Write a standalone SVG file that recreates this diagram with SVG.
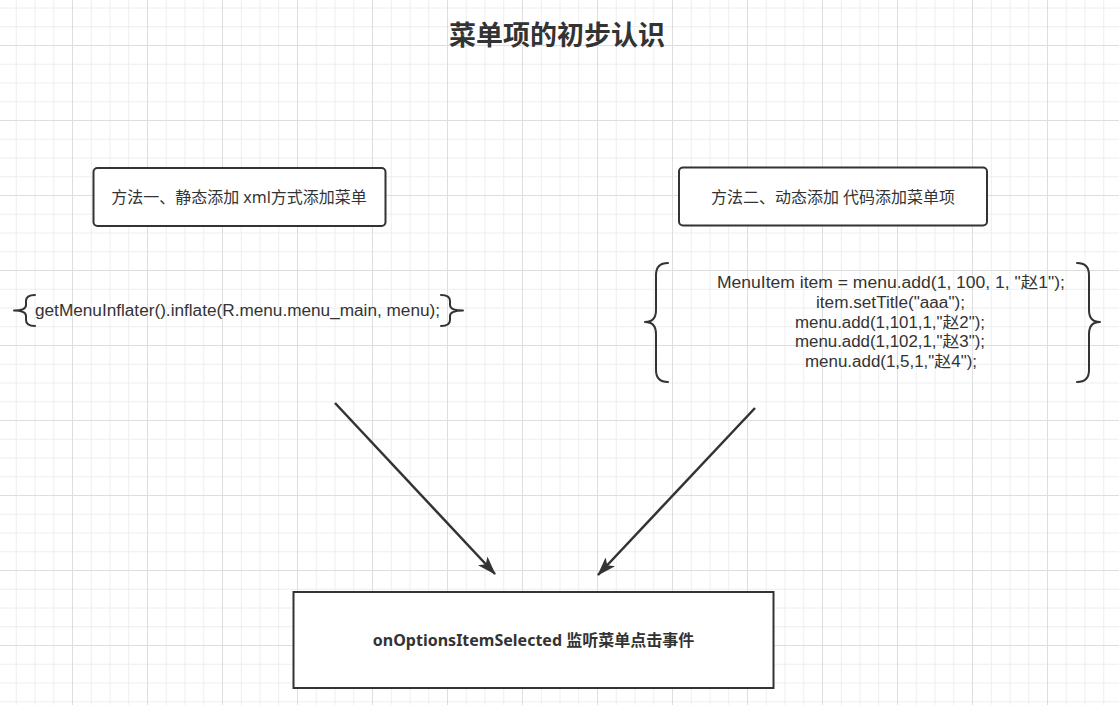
<svg xmlns="http://www.w3.org/2000/svg" width="1119" height="705" viewBox="0 0 1119 705">
  <style>
    .box { fill: #ffffff; stroke: #333333; stroke-width: 2; }
    .brace { fill: none; stroke: #333333; stroke-width: 2; stroke-linecap: round; stroke-linejoin: round; }
    .txt { font-family: "Noto Sans", "Noto Sans CJK SC", sans-serif; font-size: 16px; fill: #333333; text-anchor: middle; }
    .code { font-family: "Liberation Sans", "Noto Sans CJK SC", sans-serif; font-size: 16px; fill: #333333; text-anchor: middle; }
    .title { font-family: "Noto Sans", "Noto Sans CJK SC", sans-serif; font-size: 27px; font-weight: bold; fill: #333333; text-anchor: middle; }
    .bold { font-weight: bold; }
    .edge { fill: none; stroke: #333333; stroke-width: 2.5; }
  </style>
  <defs>
    <pattern id="grid" x="72" y="45" width="75" height="75" patternUnits="userSpaceOnUse">
      <g stroke="#eeeeee" stroke-width="1">
        <line x1="19.25" y1="0" x2="19.25" y2="75"/>
        <line x1="38" y1="0" x2="38" y2="75"/>
        <line x1="56.75" y1="0" x2="56.75" y2="75"/>
        <line x1="0" y1="19.25" x2="75" y2="19.25"/>
        <line x1="0" y1="38" x2="75" y2="38"/>
        <line x1="0" y1="56.75" x2="75" y2="56.75"/>
      </g>
      <g stroke="#dedede" stroke-width="1">
        <line x1="0.5" y1="0" x2="0.5" y2="75"/>
        <line x1="0" y1="0.5" x2="75" y2="0.5"/>
      </g>
    </pattern>
    <marker id="arrow" viewBox="0 0 19 13" refX="18" refY="6.5" markerWidth="19" markerHeight="13" markerUnits="userSpaceOnUse" orient="auto">
      <path d="M0,0 L19,6.5 L0,13 L4.5,6.5 Z" fill="#333333"/>
    </marker>
  </defs>
  <rect x="0" y="0" width="1119" height="705" fill="#ffffff"/>
  <rect x="0" y="0" width="1119" height="705" fill="url(#grid)"/>

  <g id="title">
    <text class="title" x="557" y="45">菜单项的初步认识</text>
  </g>

  <g id="connectors">
    <line class="edge" x1="335" y1="403" x2="495" y2="574" marker-end="url(#arrow)"/>
    <line class="edge" x1="755" y1="408" x2="598" y2="575" marker-end="url(#arrow)"/>
  </g>

  <g id="node-static">
    <rect class="box" x="93.5" y="168" width="292" height="58" rx="4" ry="4"/>
    <text class="txt" x="239" y="203">方法一、静态添加 xml方式添加菜单</text>
  </g>

  <g id="node-dynamic">
    <rect class="box" x="679" y="167.5" width="308" height="58" rx="4" ry="4"/>
    <text class="txt" x="833" y="203">方法二、动态添加 代码添加菜单项</text>
  </g>

  <g id="node-inflate">
    <path class="brace" d="M35,295 Q26,295 26,301 L26,305 Q26,310.5 14,310.5 Q26,310.5 26,316 L26,320 Q26,326 35,326"/>
    <path class="brace" d="M441,295 Q450,295 450,301 L450,305 Q450,310.5 463,310.5 Q450,310.5 450,316 L450,320 Q450,326 441,326"/>
    <text class="code" x="237.5" y="316" textLength="405" lengthAdjust="spacingAndGlyphs">getMenuInflater().inflate(R.menu.menu_main, menu);</text>
  </g>

  <g id="node-code">
    <path class="brace" d="M668,263 Q656,263 656,275 L656,310 Q656,322 645,322 Q656,322 656,334 L656,370 Q656,382 668,382"/>
    <path class="brace" d="M1077,263 Q1089,263 1089,275 L1089,310 Q1089,322 1100,322 Q1089,322 1089,334 L1089,370 Q1089,382 1077,382"/>
    <text class="code" x="891" y="288" textLength="348" lengthAdjust="spacingAndGlyphs">MenuItem item = menu.add(1, 100, 1, "赵1");</text>
    <text class="code" x="890.5" y="308" textLength="149" lengthAdjust="spacingAndGlyphs">item.setTitle("aaa");</text>
    <text class="code" x="890" y="327.5" textLength="190" lengthAdjust="spacingAndGlyphs">menu.add(1,101,1,"赵2");</text>
    <text class="code" x="890" y="347" textLength="190" lengthAdjust="spacingAndGlyphs">menu.add(1,102,1,"赵3");</text>
    <text class="code" x="891" y="367" textLength="172" lengthAdjust="spacingAndGlyphs">menu.add(1,5,1,"赵4");</text>
  </g>

  <g id="node-listener">
    <rect class="box" x="293.5" y="592" width="480" height="96"/>
    <text class="txt bold" x="533.5" y="646">onOptionsItemSelected 监听菜单点击事件</text>
  </g>
</svg>
